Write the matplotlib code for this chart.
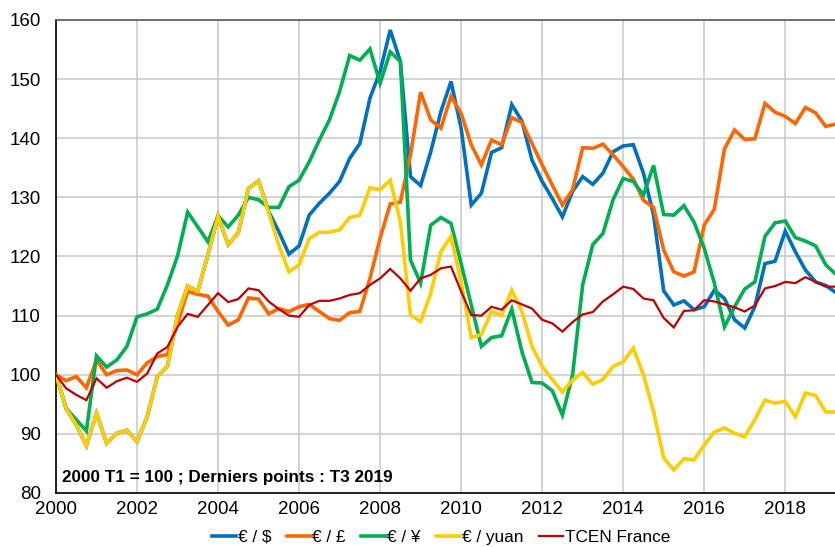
import numpy as np
import matplotlib
matplotlib.use("Agg")
import matplotlib.pyplot as plt

plt.rcParams['font.family'] = ['Liberation Sans', 'DejaVu Sans']

# quarterly indices, 2000 T1 = 100
eur_usd = [100.0, 94.3, 91.5, 88.0, 93.5, 88.4, 90.1, 90.6, 88.7, 92.9,
           99.7, 101.4, 110.1, 115.0, 114.1, 120.3, 126.8, 122.0, 124.0, 131.5,
           132.8, 127.6, 124.2, 120.4, 121.8, 127.0, 129.0, 130.7, 132.7, 136.6,
           139.1, 146.8, 151.3, 158.3, 153.0, 133.5, 132.0, 137.7, 144.5, 149.6,
           141.7, 128.7, 130.7, 137.6, 138.4, 145.7, 142.9, 136.3, 132.7, 129.8,
           126.7, 131.0, 133.5, 132.2, 134.1, 137.7, 138.7, 138.9, 134.1, 127.0,
           114.2, 111.8, 112.5, 111.0, 111.5, 114.3, 112.9, 109.3, 107.9, 111.5,
           118.8, 119.2, 124.3, 120.8, 117.7, 115.7, 115.1, 113.9]
eur_gbp = [100.0, 99.0, 99.7, 97.8, 102.5, 100.0, 100.7, 100.8, 100.0, 102.0,
           103.1, 103.4, 108.7, 114.1, 113.6, 113.3, 110.7, 108.4, 109.3, 113.0,
           112.8, 110.3, 111.2, 110.7, 111.5, 111.9, 110.7, 109.5, 109.2, 110.5,
           110.7, 116.3, 123.1, 128.9, 129.2, 137.2, 147.8, 143.1, 141.7, 147.1,
           144.2, 138.9, 135.5, 139.7, 138.9, 143.5, 142.7, 139.1, 135.5, 132.1,
           128.7, 131.3, 138.4, 138.3, 139.0, 137.2, 135.2, 133.1, 129.5, 128.3,
           121.1, 117.4, 116.7, 117.4, 125.3, 128.0, 138.2, 141.4, 139.8, 139.9,
           145.9, 144.4, 143.7, 142.5, 145.2, 144.3, 142.0, 142.4]
eur_jpy = [100.0, 94.3, 92.4, 90.5, 103.2, 101.3, 102.5, 104.8, 109.8, 110.3,
           111.1, 115.2, 120.1, 127.5, 125.0, 122.5, 126.9, 125.0, 127.0, 130.0,
           129.6, 128.3, 128.3, 131.8, 132.9, 136.0, 139.7, 143.1, 147.9, 154.0,
           153.2, 155.1, 149.3, 154.6, 153.0, 119.4, 115.5, 125.3, 126.6, 125.6,
           118.8, 111.8, 104.8, 106.3, 106.6, 111.1, 103.9, 98.7, 98.6, 97.3,
           93.2, 99.9, 115.2, 122.0, 123.9, 129.6, 133.2, 132.7, 130.4, 135.4,
           127.1, 127.0, 128.6, 125.8, 121.4, 115.5, 108.1, 111.5, 114.5, 115.7,
           123.4, 125.7, 126.0, 123.2, 122.6, 121.8, 118.6, 117.0]
eur_cny = [100.0, 94.3, 91.5, 88.0, 93.5, 88.4, 90.1, 90.6, 88.7, 92.9,
           99.7, 101.4, 110.1, 115.0, 114.1, 120.3, 126.8, 122.0, 124.0, 131.5,
           132.8, 127.4, 121.9, 117.4, 118.6, 123.0, 124.1, 124.1, 124.5, 126.6,
           127.0, 131.6, 131.3, 132.9, 125.9, 110.1, 109.0, 113.8, 120.8, 123.4,
           115.7, 106.3, 106.8, 110.7, 110.0, 114.3, 110.7, 104.8, 101.4, 99.2,
           97.1, 99.1, 100.4, 98.4, 99.2, 101.4, 102.2, 104.5, 100.0, 93.8,
           85.9, 83.9, 85.8, 85.6, 88.1, 90.3, 91.0, 90.1, 89.5, 92.4,
           95.7, 95.2, 95.5, 92.9, 96.9, 96.5, 93.7, 93.7]
tcen = [100.0, 97.7, 96.6, 95.7, 99.4, 97.8, 98.9, 99.5, 98.8, 100.2,
        103.6, 104.7, 108.1, 110.3, 109.8, 111.8, 113.8, 112.3, 112.8, 114.6,
        114.3, 112.4, 111.1, 110.0, 109.8, 111.8, 112.5, 112.5, 112.9, 113.5,
        113.8, 115.2, 116.3, 117.9, 116.3, 114.2, 116.3, 116.9, 118.0, 118.3,
        114.1, 110.1, 110.0, 111.5, 111.0, 112.6, 111.9, 111.2, 109.3, 108.7,
        107.3, 108.9, 110.2, 110.6, 112.4, 113.6, 114.9, 114.5, 112.9, 112.6,
        109.6, 108.0, 110.8, 110.9, 112.6, 112.4, 111.9, 111.4, 110.7, 111.7,
        114.6, 115.0, 115.7, 115.5, 116.5, 115.7, 114.9, 114.9]

series_names = ['€ / $', '€ / £', '€ / ¥', '€ / yuan', 'TCEN France']
colors = ['#0070C0', '#FF6600', '#00B050', '#FFCC00', '#C00000']

quarters = 2000 + np.arange(len(tcen)) / 4.0

fig = plt.figure(figsize=(8.35, 5.47), dpi=100)
ax = fig.add_axes([56 / 835, 54 / 547, 790 / 835, 473 / 547])

all_series = [eur_usd, eur_gbp, eur_jpy, eur_cny, tcen]
for vals, name, col in zip(all_series, series_names, colors):
    lw = 1.6 if name == 'TCEN France' else 2.6
    ax.plot(quarters, vals, color=col, lw=lw, label=name,
            solid_joinstyle='miter', zorder=3)

ax.set_xlim(2000, 2019.5)
ax.set_ylim(80, 160)
ax.set_xticks(range(2000, 2019, 2))
ax.set_yticks(range(80, 161, 10))
ax.grid(True, color='#c8c8c8', lw=1.1, zorder=0)
ax.tick_params(length=0, labelsize=13.5, colors='black')
ax.tick_params(axis='y', pad=11)
ax.tick_params(axis='x', pad=5.5)

for side in ['left', 'bottom']:
    ax.spines[side].set_color('black')
    ax.spines[side].set_linewidth(1.2)
ax.spines['top'].set_color('#595959')
ax.spines['top'].set_linewidth(1.2)
ax.spines['right'].set_visible(False)

ax.text(0.008, 0.016, '2000 T1 = 100 ; Derniers points : T3 2019',
        transform=ax.transAxes, fontsize=12.3, fontweight='bold', va='bottom')

fig.legend(loc='center', bbox_to_anchor=(441 / 835, 10 / 547), ncol=5,
           frameon=False, fontsize=12.4, handlelength=1.4, handletextpad=0.1,
           columnspacing=0.9)

fig.savefig('out.png', dpi=100)
